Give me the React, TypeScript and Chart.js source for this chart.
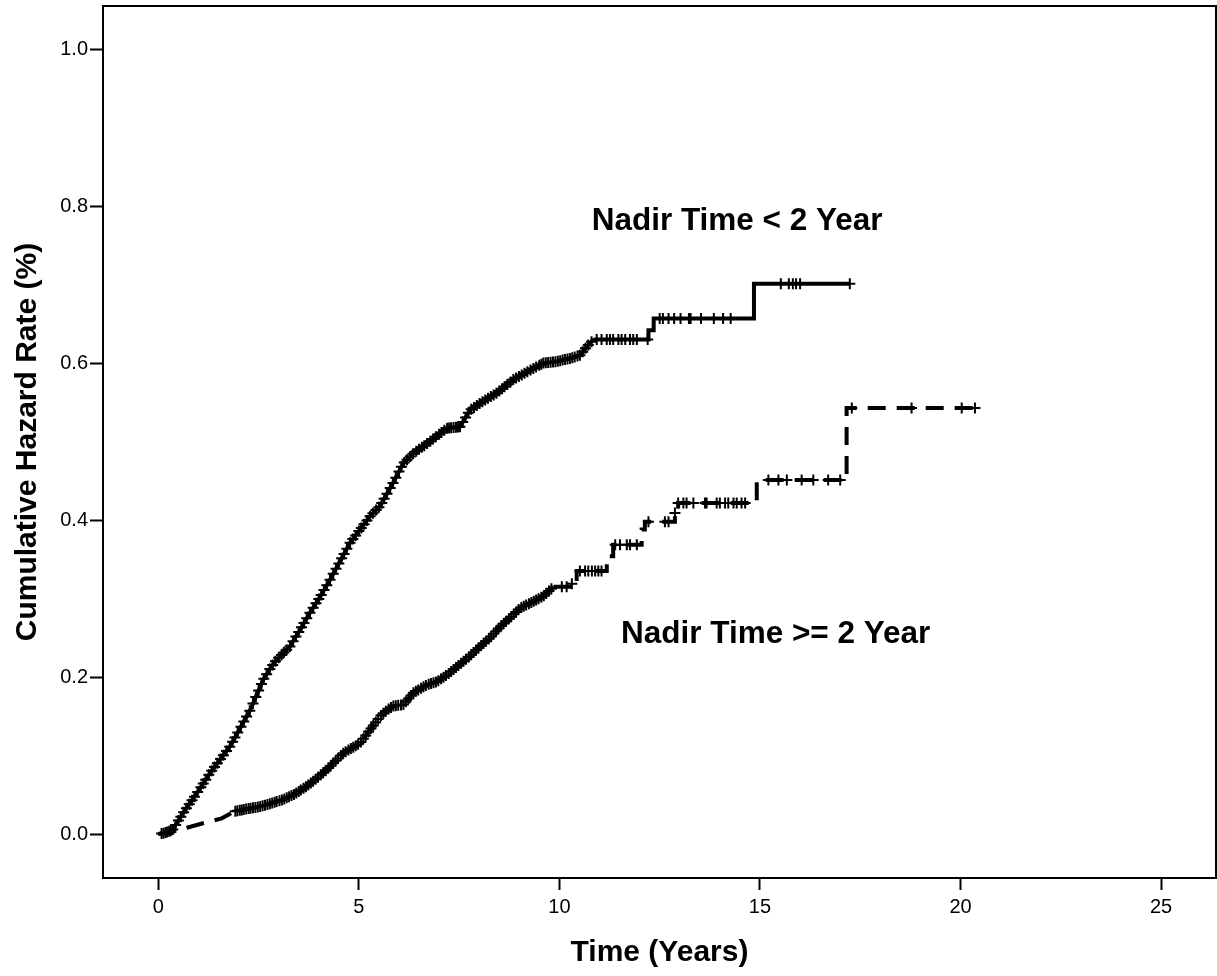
import { useEffect, useRef } from 'react';
import { Chart, registerables } from 'chart.js';

Chart.register(...registerables);

// Axis ticks and titles
const xTicks = [0, 5, 10, 15, 20, 25];
const yTicks = [0, 0.2, 0.4, 0.6, 0.8, 1.0];
const xTitle = 'Time (Years)';
const yTitle = 'Cumulative Hazard Rate (%)';
const groupNames = ['Nadir Time < 2 Year', 'Nadir Time >= 2 Year'];

// Group 1: Nadir Time < 2 Year (solid) - dense early portion
const shortDenseT = [0, 0.12, 0.35, 0.62, 1.0, 1.29, 1.54, 1.79, 2.04, 2.29, 2.62, 2.8, 2.95, 3.28, 3.53, 3.78, 4.03, 4.28, 4.78, 5.28, 5.53, 5.9, 6.1, 6.36, 6.77, 7.19, 7.52, 7.77, 8.02, 8.44, 8.85, 9.27, 9.6, 9.93, 10.26, 10.51, 10.68, 10.85];
const shortDenseH = [0, 0.001, 0.005, 0.027, 0.055, 0.078, 0.095, 0.112, 0.135, 0.158, 0.197, 0.212, 0.222, 0.239, 0.26, 0.282, 0.302, 0.324, 0.371, 0.405, 0.418, 0.452, 0.472, 0.485, 0.5, 0.517, 0.519, 0.54, 0.549, 0.562, 0.579, 0.591, 0.6, 0.602, 0.606, 0.61, 0.621, 0.63];
// Group 1 tail (step function)
const shortTailT = [10.85, 12.22, 12.35, 14.85, 17.24];
const shortTailH = [0.63, 0.642, 0.657, 0.701, 0.701];
// Group 1 censored times
const shortCensor = [0.08, 0.18, 0.27, 0.36, 0.5, 0.63, 0.77, 0.9, 1.06, 1.18, 1.33, 1.47, 1.62, 1.78, 1.91, 2.06, 2.2, 2.36, 2.5, 2.63, 2.78, 2.92, 3.07, 3.2, 3.36, 3.5, 3.63, 3.78, 3.93, 4.06, 4.2, 4.36, 4.5, 4.63, 4.78, 4.92, 5.06, 5.2, 5.35, 5.5, 5.63, 5.78, 5.92, 6.06, 6.2, 6.35, 6.5, 6.63, 6.78, 6.92, 7.06, 7.2, 7.3, 7.42, 7.52, 7.66, 7.8, 7.94, 8.08, 8.22, 8.36, 8.5, 8.63, 8.78, 8.92, 9.06, 9.2, 9.35, 9.5, 9.6, 9.72, 9.84, 9.96, 10.08, 10.2, 10.32, 10.45, 10.58, 10.72, 10.93, 11.05, 11.18, 11.26, 11.34, 11.47, 11.55, 11.64, 11.76, 11.84, 11.93, 12.2, 12.5, 12.58, 12.72, 12.86, 13.02, 13.23, 13.27, 13.53, 13.85, 14.08, 14.27, 15.52, 15.72, 15.82, 15.9, 16.0, 17.24];
const shortCensorMore = [0.13, 0.22, 0.31, 0.43, 0.56, 0.7, 0.84, 0.98, 1.12, 1.26, 1.4, 1.55, 1.7, 1.85, 1.98, 2.13, 2.28, 2.43, 2.57, 2.7, 2.85, 3.0, 3.13, 3.28, 3.43, 3.57, 3.7, 3.86, 4.0, 4.13, 4.28, 4.43, 4.57, 4.7, 4.85, 5.0, 5.13, 5.28, 5.43, 5.57, 5.7, 5.85, 6.0, 6.13, 6.28, 6.43, 6.57, 6.7, 6.85, 7.0, 7.13, 7.25, 7.36, 7.47, 7.59, 7.73, 7.87, 8.01, 8.15, 8.29, 8.43, 8.57, 8.7, 8.85, 8.99, 9.13, 9.28, 9.42, 9.55, 9.66, 9.78, 9.9, 10.02, 10.14, 10.26, 10.38, 10.51, 10.65, 10.8];

// Group 2: Nadir Time >= 2 Year (dashed) - dense early portion
const longDenseT = [0, 0.3, 0.71, 1.2, 1.58, 1.91, 2.2, 2.54, 2.8, 3.11, 3.4, 3.7, 3.95, 4.2, 4.61, 5.03, 5.28, 5.53, 5.7, 5.86, 6.11, 6.36, 6.69, 6.94, 7.2, 7.44, 7.75, 8.02, 8.27, 8.52, 8.8, 9.02, 9.3, 9.6, 9.85];
const longDenseH = [0, 0.002, 0.008, 0.015, 0.02, 0.029, 0.032, 0.035, 0.039, 0.044, 0.051, 0.061, 0.071, 0.082, 0.103, 0.116, 0.133, 0.15, 0.158, 0.163, 0.165, 0.18, 0.19, 0.194, 0.203, 0.213, 0.226, 0.239, 0.25, 0.264, 0.277, 0.288, 0.295, 0.303, 0.315];
// Group 2 tail (step function)
const longTailT = [9.85, 10.3, 10.43, 11.18, 11.34, 12.05, 12.13, 12.88, 12.96, 14.92, 17.16, 20.49];
const longTailH = [0.315, 0.319, 0.335, 0.354, 0.3685, 0.388, 0.398, 0.409, 0.4217, 0.451, 0.5427, 0.5427];
// Group 2 censored times
const longCensor = [1.92, 2.03, 2.13, 2.25, 2.36, 2.48, 2.6, 2.72, 2.84, 2.95, 3.08, 3.2, 3.32, 3.44, 3.55, 3.68, 3.8, 3.92, 4.05, 4.17, 4.3, 4.42, 4.55, 4.67, 4.8, 4.92, 5.05, 5.17, 5.3, 5.42, 5.55, 5.67, 5.8, 5.92, 6.05, 6.17, 6.3, 6.42, 6.55, 6.67, 6.8, 6.92, 7.05, 7.17, 7.3, 7.42, 7.55, 7.67, 7.8, 7.92, 8.05, 8.17, 8.3, 8.42, 8.55, 8.67, 8.8, 8.92, 9.05, 9.17, 9.3, 9.42, 9.55, 9.67, 9.8, 10.06, 10.18, 10.31, 10.51, 10.64, 10.72, 10.81, 10.89, 10.97, 11.05, 11.39, 11.51, 11.68, 11.76, 11.93, 12.22, 12.63, 12.72, 12.88, 12.96, 13.09, 13.17, 13.34, 13.63, 13.67, 13.92, 14.0, 14.13, 14.21, 14.34, 14.42, 14.54, 14.63, 15.21, 15.46, 15.67, 16.04, 16.33, 16.7, 17.0, 17.29, 18.78, 20.03, 20.36];
const longCensorMore = [1.97, 2.08, 2.19, 2.3, 2.42, 2.54, 2.66, 2.78, 2.9, 3.02, 3.14, 3.26, 3.38, 3.5, 3.62, 3.74, 3.86, 3.98, 4.11, 4.24, 4.36, 4.48, 4.61, 4.74, 4.86, 4.98, 5.11, 5.24, 5.36, 5.48, 5.61, 5.74, 5.86, 5.98, 6.11, 6.24, 6.36, 6.48, 6.61, 6.74, 6.86, 6.98, 7.11, 7.24, 7.36, 7.48, 7.61, 7.74, 7.86, 7.98, 8.11, 8.24, 8.36, 8.48, 8.61, 8.74, 8.86, 8.98, 9.11, 9.24, 9.36, 9.48, 9.61, 9.74];

const FONT = "'Liberation Sans', Arial, Helvetica, sans-serif";

function toPoints(ts: number[], hs: number[]) {
  return ts.map((t, i) => ({ x: t, y: hs[i] }));
}

function hazardAt(x: number, dT: number[], dH: number[], tT: number[], tH: number[]) {
  if (x <= dT[dT.length - 1]) {
    for (let i = 1; i < dT.length; i++) {
      if (x <= dT[i]) {
        const f = (x - dT[i - 1]) / (dT[i] - dT[i - 1]);
        return dH[i - 1] + f * (dH[i] - dH[i - 1]);
      }
    }
    return dH[0];
  }
  let v = tH[0];
  for (let i = 0; i < tT.length; i++) {
    if (tT[i] <= x + 1e-9) v = tH[i];
  }
  return v;
}

function censorPoints(cs: number[], dT: number[], dH: number[], tT: number[], tH: number[]) {
  return cs.map((c) => ({ x: c, y: hazardAt(c, dT, dH, tT, tH) }));
}

const framePlugin = {
  id: 'frameAndLabels',
  afterDraw(chart: any) {
    const { ctx, chartArea, scales } = chart;
    ctx.save();
    ctx.strokeStyle = '#000';
    ctx.lineWidth = 2;
    ctx.strokeRect(chartArea.left, chartArea.top, chartArea.right - chartArea.left, chartArea.bottom - chartArea.top);
    ctx.fillStyle = '#000';
    ctx.font = `bold 31.5px ${FONT}`;
    ctx.textAlign = 'center';
    ctx.textBaseline = 'middle';
    const labelAt = [
      { x: 14.43, y: 0.781 },
      { x: 15.39, y: 0.254 },
    ];
    groupNames.forEach((name, i) => {
      ctx.fillText(name, scales.x.getPixelForValue(labelAt[i].x), scales.y.getPixelForValue(labelAt[i].y));
    });
    ctx.restore();
  },
};

export default function App() {
  const canvasRef = useRef<HTMLCanvasElement | null>(null);

  useEffect(() => {
    if (!canvasRef.current) return;
    const lineCommon = {
      showLine: true,
      pointRadius: 0,
      borderColor: '#000',
      backgroundColor: '#000',
      borderWidth: 4,
      fill: false,
      tension: 0,
    };
    const markCommon = {
      showLine: false,
      pointStyle: 'cross',
      pointRadius: 5.5,
      pointBorderWidth: 2,
      pointBorderColor: '#000',
      pointBackgroundColor: '#000',
      borderColor: '#000',
    };
    const chart = new Chart(canvasRef.current, {
      type: 'scatter',
      data: {
        datasets: [
          { ...markCommon, label: 'c1', data: censorPoints(shortCensor.concat(shortCensorMore), shortDenseT, shortDenseH, shortTailT, shortTailH) },
          { ...markCommon, label: 'c2', data: censorPoints(longCensor.concat(longCensorMore), longDenseT, longDenseH, longTailT, longTailH) },
          { ...lineCommon, label: groupNames[0], data: toPoints(shortDenseT, shortDenseH) },
          { ...lineCommon, label: groupNames[0] + ' tail', data: toPoints(shortTailT, shortTailH), stepped: 'before' },
          { ...lineCommon, label: groupNames[1], data: toPoints(longDenseT, longDenseH), borderDash: [18, 11] },
          { ...lineCommon, label: groupNames[1] + ' tail', data: toPoints(longTailT, longTailH), stepped: 'before', borderDash: [18, 11] },
        ] as any,
      },
      options: {
        animation: false,
        responsive: false,
        maintainAspectRatio: false,
        layout: { autoPadding: false, padding: { left: 0, top: 6, right: 1, bottom: 0 } },
        plugins: { legend: { display: false }, tooltip: { enabled: false } },
        scales: {
          x: {
            type: 'linear',
            min: -1.38,
            max: 26.37,
            afterBuildTicks: (scale: any) => {
              scale.ticks = xTicks.map((v) => ({ value: v }));
            },
            afterFit: (scale: any) => {
              scale.height = 98;
              scale.paddingLeft = 0;
              scale.paddingRight = 0;
            },
            ticks: {
              color: '#000',
              font: { family: FONT, size: 20 },
              padding: 5,
              maxRotation: 0,
              autoSkip: false,
              callback: (v: any) => String(v),
            },
            grid: {
              display: true,
              drawOnChartArea: false,
              drawTicks: true,
              tickLength: 12,
              tickWidth: 2,
              tickColor: '#000',
            },
            border: { display: false },
            title: {
              display: true,
              text: xTitle,
              color: '#000',
              font: { family: FONT, size: 30, weight: 'bold' },
              padding: { top: 0, bottom: 5 },
            },
          },
          y: {
            type: 'linear',
            min: -0.056,
            max: 1.055,
            afterBuildTicks: (scale: any) => {
              scale.ticks = yTicks.map((v) => ({ value: v }));
            },
            afterFit: (scale: any) => {
              scale.width = 103;
              scale.paddingTop = 0;
              scale.paddingBottom = 0;
            },
            ticks: {
              color: '#000',
              font: { family: FONT, size: 20 },
              padding: 2,
              autoSkip: false,
              callback: (v: any) => Number(v).toFixed(1),
            },
            grid: {
              display: true,
              drawOnChartArea: false,
              drawTicks: true,
              tickLength: 13,
              tickWidth: 2,
              tickColor: '#000',
            },
            border: { display: false },
            title: {
              display: true,
              text: yTitle,
              color: '#000',
              font: { family: FONT, size: 30, weight: 'bold' },
              padding: { top: 10, bottom: 0 },
            },
          },
        },
      } as any,
      plugins: [framePlugin],
    });
    return () => chart.destroy();
  }, []);

  return (
    <div style={{ position: 'absolute', left: 0, top: 0, width: 1217, height: 976, background: '#fff' }}>
      <canvas ref={canvasRef} width={1217} height={976} style={{ display: 'block' }} />
    </div>
  );
}
